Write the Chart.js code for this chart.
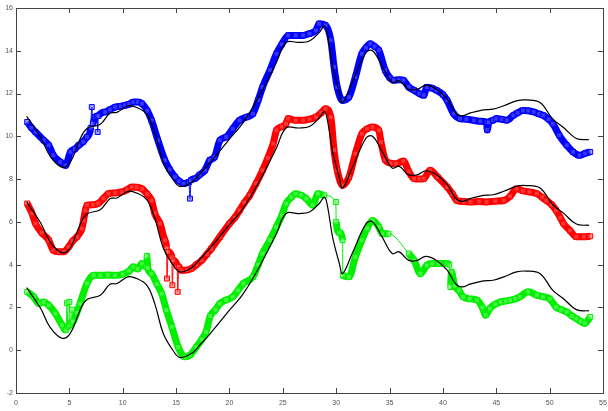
<!DOCTYPE html>
<html>
<head>
<meta charset="utf-8">
<script src="https://cdn.jsdelivr.net/npm/chart.js@4.4.1/dist/chart.umd.min.js"></script>
<style>
  html, body { margin: 0; padding: 0; background: #fff; }
  #wrap { width: 608px; height: 411px; }
</style>
</head>
<body>
<div id="wrap"><canvas id="graphique" width="608" height="411"></canvas></div>
<script>
var bleu = [[1.05,10.67],[1.45,10.4],[1.83,10.2],[2.6,9.81],[3.07,9.58],[3.5,9.11],[4.16,8.8],[4.63,8.64],[5.1,9.27],[5.5,9.4],[5.87,9.58],[6.3,9.75],[6.65,9.97],[7.0,10.4],[7.1,11.37],[7.2,10.6],[7.4,10.9],[7.6,10.95],[7.65,10.2],[7.72,10.95],[8.36,11.14],[8.8,11.25],[9.3,11.37],[9.8,11.4],[10.2,11.45],[10.6,11.5],[11.0,11.6],[11.4,11.6],[11.8,11.53],[12.3,11.2],[12.7,10.75],[13.3,9.81],[13.95,8.88],[14.4,8.45],[14.9,8.1],[15.3,7.9],[15.7,7.79],[16.2,7.85],[16.3,7.09],[16.4,7.95],[16.75,8.02],[17.2,8.2],[17.7,8.41],[18.15,8.88],[18.6,9.03],[19.1,9.81],[19.7,9.97],[20.3,10.35],[20.95,10.75],[21.6,10.9],[22.2,11.06],[22.7,11.7],[23.1,12.3],[23.8,13.1],[24.4,13.86],[24.9,14.3],[25.5,14.72],[26.2,14.72],[26.9,14.72],[27.5,14.8],[28.1,14.95],[28.4,15.26],[29.0,15.19],[29.5,14.49],[29.8,13.24],[30.1,12.3],[30.6,11.68],[31.2,11.84],[31.8,12.77],[32.4,13.86],[32.8,14.15],[33.2,14.33],[33.6,14.2],[34.0,14.02],[34.6,13.08],[35.0,12.75],[35.4,12.62],[35.9,12.65],[36.3,12.62],[36.8,12.3],[37.3,12.15],[37.8,12.0],[38.2,11.92],[38.5,12.3],[39.0,12.25],[39.4,12.15],[40.0,11.95],[40.4,11.68],[41.0,11.06],[41.6,10.83],[42.2,10.8],[42.9,10.75],[43.5,10.7],[44.1,10.67],[44.15,10.3],[44.3,10.65],[44.7,10.75],[45.0,10.83],[45.5,10.8],[45.98,10.75],[46.6,10.98],[47.0,11.1],[47.5,11.21],[48.0,11.2],[48.5,11.14],[49.0,11.05],[49.4,10.98],[49.9,10.8],[50.3,10.59],[50.9,10.05],[51.6,9.58],[52.2,9.27],[52.8,9.11],[53.3,9.2],[53.8,9.27]];

var rouge = [[1.05,6.86],[1.5,6.4],[1.83,5.92],[2.4,5.5],[3.07,5.14],[3.5,4.67],[4.0,4.6],[4.47,4.6],[4.93,4.83],[5.3,5.1],[5.7,5.3],[6.18,5.69],[6.33,6.07],[6.5,6.54],[6.65,6.78],[7.2,6.8],[7.7,6.86],[8.2,7.1],[8.67,7.32],[9.3,7.35],[9.9,7.4],[10.4,7.5],[10.85,7.63],[11.3,7.62],[11.8,7.55],[12.3,7.3],[12.7,7.0],[13.0,6.4],[13.5,5.92],[13.96,5.14],[14.1,4.8],[14.15,3.35],[14.25,4.6],[14.6,4.35],[14.65,3.04],[14.75,4.2],[15.1,3.95],[15.15,2.73],[15.25,3.9],[15.5,3.74],[16.0,3.75],[16.45,3.82],[16.9,4.0],[17.4,4.2],[17.9,4.5],[18.3,4.75],[19.1,5.3],[20.0,5.92],[20.5,6.2],[20.95,6.54],[21.4,6.9],[21.9,7.24],[22.5,7.8],[23.1,8.41],[23.6,9.0],[24.1,9.66],[24.4,10.28],[24.9,10.45],[25.3,10.59],[25.5,10.83],[26.2,10.75],[26.9,10.75],[27.5,10.8],[28.1,10.9],[28.6,11.1],[29.0,11.29],[29.5,10.9],[29.8,9.35],[30.1,8.41],[30.6,7.71],[31.2,8.1],[31.8,9.19],[32.4,10.12],[32.9,10.35],[33.4,10.44],[34.0,10.28],[34.2,9.73],[34.6,8.9],[35.1,8.75],[35.6,8.72],[36.3,8.85],[36.8,8.35],[37.3,8.02],[37.8,8.0],[38.2,8.02],[38.8,8.41],[39.5,8.1],[40.4,7.63],[40.9,7.3],[41.3,7.0],[42.0,6.95],[42.6,6.93],[43.4,6.95],[44.1,6.93],[44.9,6.97],[45.7,7.0],[46.3,7.2],[46.9,7.55],[47.5,7.45],[48.1,7.4],[48.8,7.32],[49.3,7.15],[49.7,7.0],[50.2,6.8],[50.6,6.54],[51.0,6.2],[51.3,5.92],[51.9,5.6],[52.5,5.3],[53.2,5.3],[53.8,5.33]];

var vert = [[1.05,2.73],[1.67,2.49],[2.14,2.18],[2.6,2.26],[3.07,2.1],[3.7,1.71],[4.32,1.17],[4.63,0.95],[4.7,0.95],[4.78,2.2],[4.85,1.1],[4.95,1.15],[5.0,2.26],[5.1,1.2],[5.2,1.3],[5.25,1.9],[5.32,1.35],[5.7,1.75],[6.0,2.18],[6.65,3.12],[7.27,3.5],[7.9,3.5],[8.6,3.52],[9.3,3.5],[10.0,3.55],[10.6,3.7],[11.0,3.9],[11.4,3.8],[11.8,4.05],[12.2,3.9],[12.25,4.4],[12.35,3.85],[12.7,3.58],[13.2,3.1],[13.65,2.65],[14.1,1.87],[14.6,1.09],[15.2,0.15],[15.8,-0.31],[16.3,-0.23],[16.9,0.15],[17.4,0.5],[17.8,0.85],[18.2,1.6],[18.7,1.9],[19.1,2.18],[19.7,2.35],[20.3,2.49],[20.8,2.8],[21.3,3.12],[22.2,3.43],[22.7,4.0],[23.1,4.52],[23.8,5.15],[24.4,5.76],[24.9,6.3],[25.3,6.85],[25.8,7.15],[26.2,7.32],[26.7,7.25],[27.2,7.09],[27.8,6.78],[28.3,7.32],[28.9,7.24],[29.97,6.93],[30.0,6.0],[30.3,5.5],[30.6,5.14],[30.62,3.5],[31.2,3.43],[31.8,4.36],[32.4,5.14],[32.9,5.7],[33.4,6.07],[34.0,5.76],[34.3,5.45],[34.9,5.45],[36.8,4.52],[37.3,4.2],[37.9,3.58],[38.5,3.97],[39.0,4.05],[39.6,4.05],[40.4,4.05],[40.6,4.0],[40.7,2.96],[40.8,3.66],[41.1,3.0],[41.5,2.8],[41.9,2.49],[42.5,2.4],[43.2,2.34],[43.7,2.0],[44.0,1.64],[44.4,1.95],[44.9,2.15],[45.4,2.26],[45.9,2.3],[46.3,2.34],[46.8,2.4],[47.2,2.49],[48.0,2.73],[48.8,2.57],[49.4,2.5],[50.0,2.41],[50.6,2.02],[51.1,1.9],[51.6,1.79],[52.1,1.6],[52.5,1.48],[52.9,1.35],[53.3,1.25],[53.8,1.56]];

// courbes noires (modele)
var modeleX = [1.0,2.3,3.2,4.3,5.1,6.0,6.65,7.9,8.8,9.45,10.5,11.3,12.25,13.0,13.8,14.7,15.35,16.45,17.2,18.2,20.0,21.3,22.8,24.4,25.3,26.5,27.5,28.4,28.9,29.2,29.66,30.3,30.6,31.5,32.8,33.4,34.3,35.25,35.9,36.8,37.6,38.4,39.4,40.4,41.2,41.8,42.6,43.8,44.7,45.7,46.9,47.8,49.1,50.3,51.3,52.5,53.7];
var modeleBleu = [10.93,9.96,9.07,8.56,8.8,9.87,10.37,10.57,11.08,11.12,11.43,11.35,11.04,10.18,8.78,8.0,7.66,7.85,8.23,8.78,9.87,10.65,11.9,13.45,14.39,14.39,14.46,14.85,15.16,14.7,13.3,12.05,11.58,12.52,13.92,14.0,13.3,12.52,12.6,12.2,12.2,12.39,12.2,11.74,11.1,10.96,11.1,11.24,11.27,11.43,11.66,11.7,11.58,10.8,10.41,9.9,9.84];
var modeleRouge = [6.93,5.96,5.07,4.56,4.8,5.87,6.37,6.57,7.08,7.12,7.43,7.35,7.04,6.18,4.78,4.0,3.66,3.85,4.23,4.78,5.87,6.65,7.9,9.45,10.39,10.39,10.46,10.85,11.16,10.7,9.3,8.05,7.58,8.52,9.92,10.0,9.3,8.52,8.6,8.2,8.2,8.39,8.2,7.74,7.1,6.96,7.1,7.24,7.27,7.43,7.66,7.7,7.58,6.8,6.41,5.9,5.84];
var modeleVert = [2.93,1.96,1.07,0.56,0.8,1.87,2.37,2.57,3.08,3.12,3.43,3.35,3.04,2.18,0.78,0.0,-0.34,-0.15,0.23,0.78,1.87,2.65,3.9,5.45,6.39,6.39,6.46,6.85,7.16,6.7,5.3,4.05,3.58,4.52,5.92,6.0,5.3,4.52,4.6,4.2,4.2,4.39,4.2,3.74,3.1,2.96,3.1,3.24,3.27,3.43,3.66,3.7,3.58,2.8,2.41,1.9,1.84];

var ticksX = [0, 5, 10, 15, 20, 25, 30, 35, 40, 45, 50, 55];
var ticksY = [-2, 0, 2, 4, 6, 8, 10, 12, 14, 16];

function points(liste) {
    return liste.map(function (p) { return { x: p[0], y: p[1] }; });
}

function modele(ys) {
    return ys.map(function (v, i) { return { x: modeleX[i], y: v }; });
}

// trait epais quand les mesures sont serrees, fin pour les sauts
function epaisseur(ctx) {
    var dx = Math.abs(ctx.p1.parsed.x - ctx.p0.parsed.x);
    var dy = Math.abs(ctx.p1.parsed.y - ctx.p0.parsed.y);
    if (dx > 1.0 || dy / dx > 7.5) return 1;
    return 7;
}

function serie(label, couleur, fond, liste) {
    return {
        label: label,
        data: points(liste),
        borderColor: couleur,
        backgroundColor: fond,
        borderWidth: 7,
        segment: { borderWidth: epaisseur },
        pointStyle: 'rect',
        pointRadius: 3.5,
        pointBorderWidth: 1,
        pointBorderColor: couleur,
        pointBackgroundColor: fond,
        cubicInterpolationMode: 'monotone',
        order: 1
    };
}

function courbe(label, ys) {
    return {
        label: label,
        data: modele(ys),
        borderColor: '#000',
        borderWidth: 1.2,
        pointRadius: 0,
        tension: 0.4,
        order: 0
    };
}

// cadre et graduations vers l'interieur
var cadre = {
    id: 'cadre',
    afterDraw: function (chart) {
        var ctx = chart.ctx, a = chart.chartArea;
        var sx = chart.scales.x, sy = chart.scales.y;
        ctx.save();
        ctx.strokeStyle = '#444';
        ctx.lineWidth = 1;
        ctx.strokeRect(Math.round(a.left) + 0.5, Math.round(a.top) + 0.5,
            Math.round(a.right - a.left), Math.round(a.bottom - a.top));
        ctx.beginPath();
        ticksX.forEach(function (v) {
            var px = Math.round(sx.getPixelForValue(v)) + 0.5;
            ctx.moveTo(px, a.bottom); ctx.lineTo(px, a.bottom - 5);
            ctx.moveTo(px, a.top); ctx.lineTo(px, a.top + 5);
        });
        ticksY.forEach(function (v) {
            var py = Math.round(sy.getPixelForValue(v)) + 0.5;
            ctx.moveTo(a.left, py); ctx.lineTo(a.left + 5, py);
            ctx.moveTo(a.right, py); ctx.lineTo(a.right - 5, py);
        });
        ctx.stroke();
        ctx.restore();
    }
};

var ctx = document.getElementById('graphique').getContext('2d');

var graphique = new Chart(ctx, {
    type: 'line',
    data: {
        datasets: [
            courbe('Modele bleu', modeleBleu),
            courbe('Modele rouge', modeleRouge),
            courbe('Modele vert', modeleVert),
            serie('Bleu', '#0000ff', 'rgba(90,90,255,0.6)', bleu),
            serie('Rouge', '#ff0000', 'rgba(255,90,90,0.6)', rouge),
            serie('Vert', '#00ee00', 'rgba(110,255,110,0.6)', vert)
        ]
    },
    options: {
        responsive: false,
        animation: false,
        layout: { padding: { top: 8, right: 2, left: 0, bottom: 0 } },
        plugins: {
            legend: { display: false },
            tooltip: { enabled: false }
        },
        scales: {
            x: {
                type: 'linear',
                min: 0,
                max: 55,
                afterBuildTicks: function (s) { s.ticks = ticksX.map(function (v) { return { value: v }; }); },
                afterFit: function (s) { s.height = 18; s.paddingLeft = 0; s.paddingRight = 0; },
                grid: { display: false, drawTicks: false, tickLength: 0 },
                border: { display: false },
                ticks: { color: '#555', font: { family: 'Liberation Sans', size: 7 }, padding: 6, maxRotation: 0 }
            },
            y: {
                min: -2,
                max: 16,
                afterBuildTicks: function (s) { s.ticks = ticksY.map(function (v) { return { value: v }; }); },
                afterFit: function (s) { s.width = 16; s.paddingTop = 0; s.paddingBottom = 0; },
                grid: { display: false, drawTicks: false, tickLength: 0 },
                border: { display: false },
                ticks: { color: '#555', font: { family: 'Liberation Sans', size: 7 }, padding: 3 }
            }
        }
    },
    plugins: [cadre]
});
</script>
</body>
</html>
